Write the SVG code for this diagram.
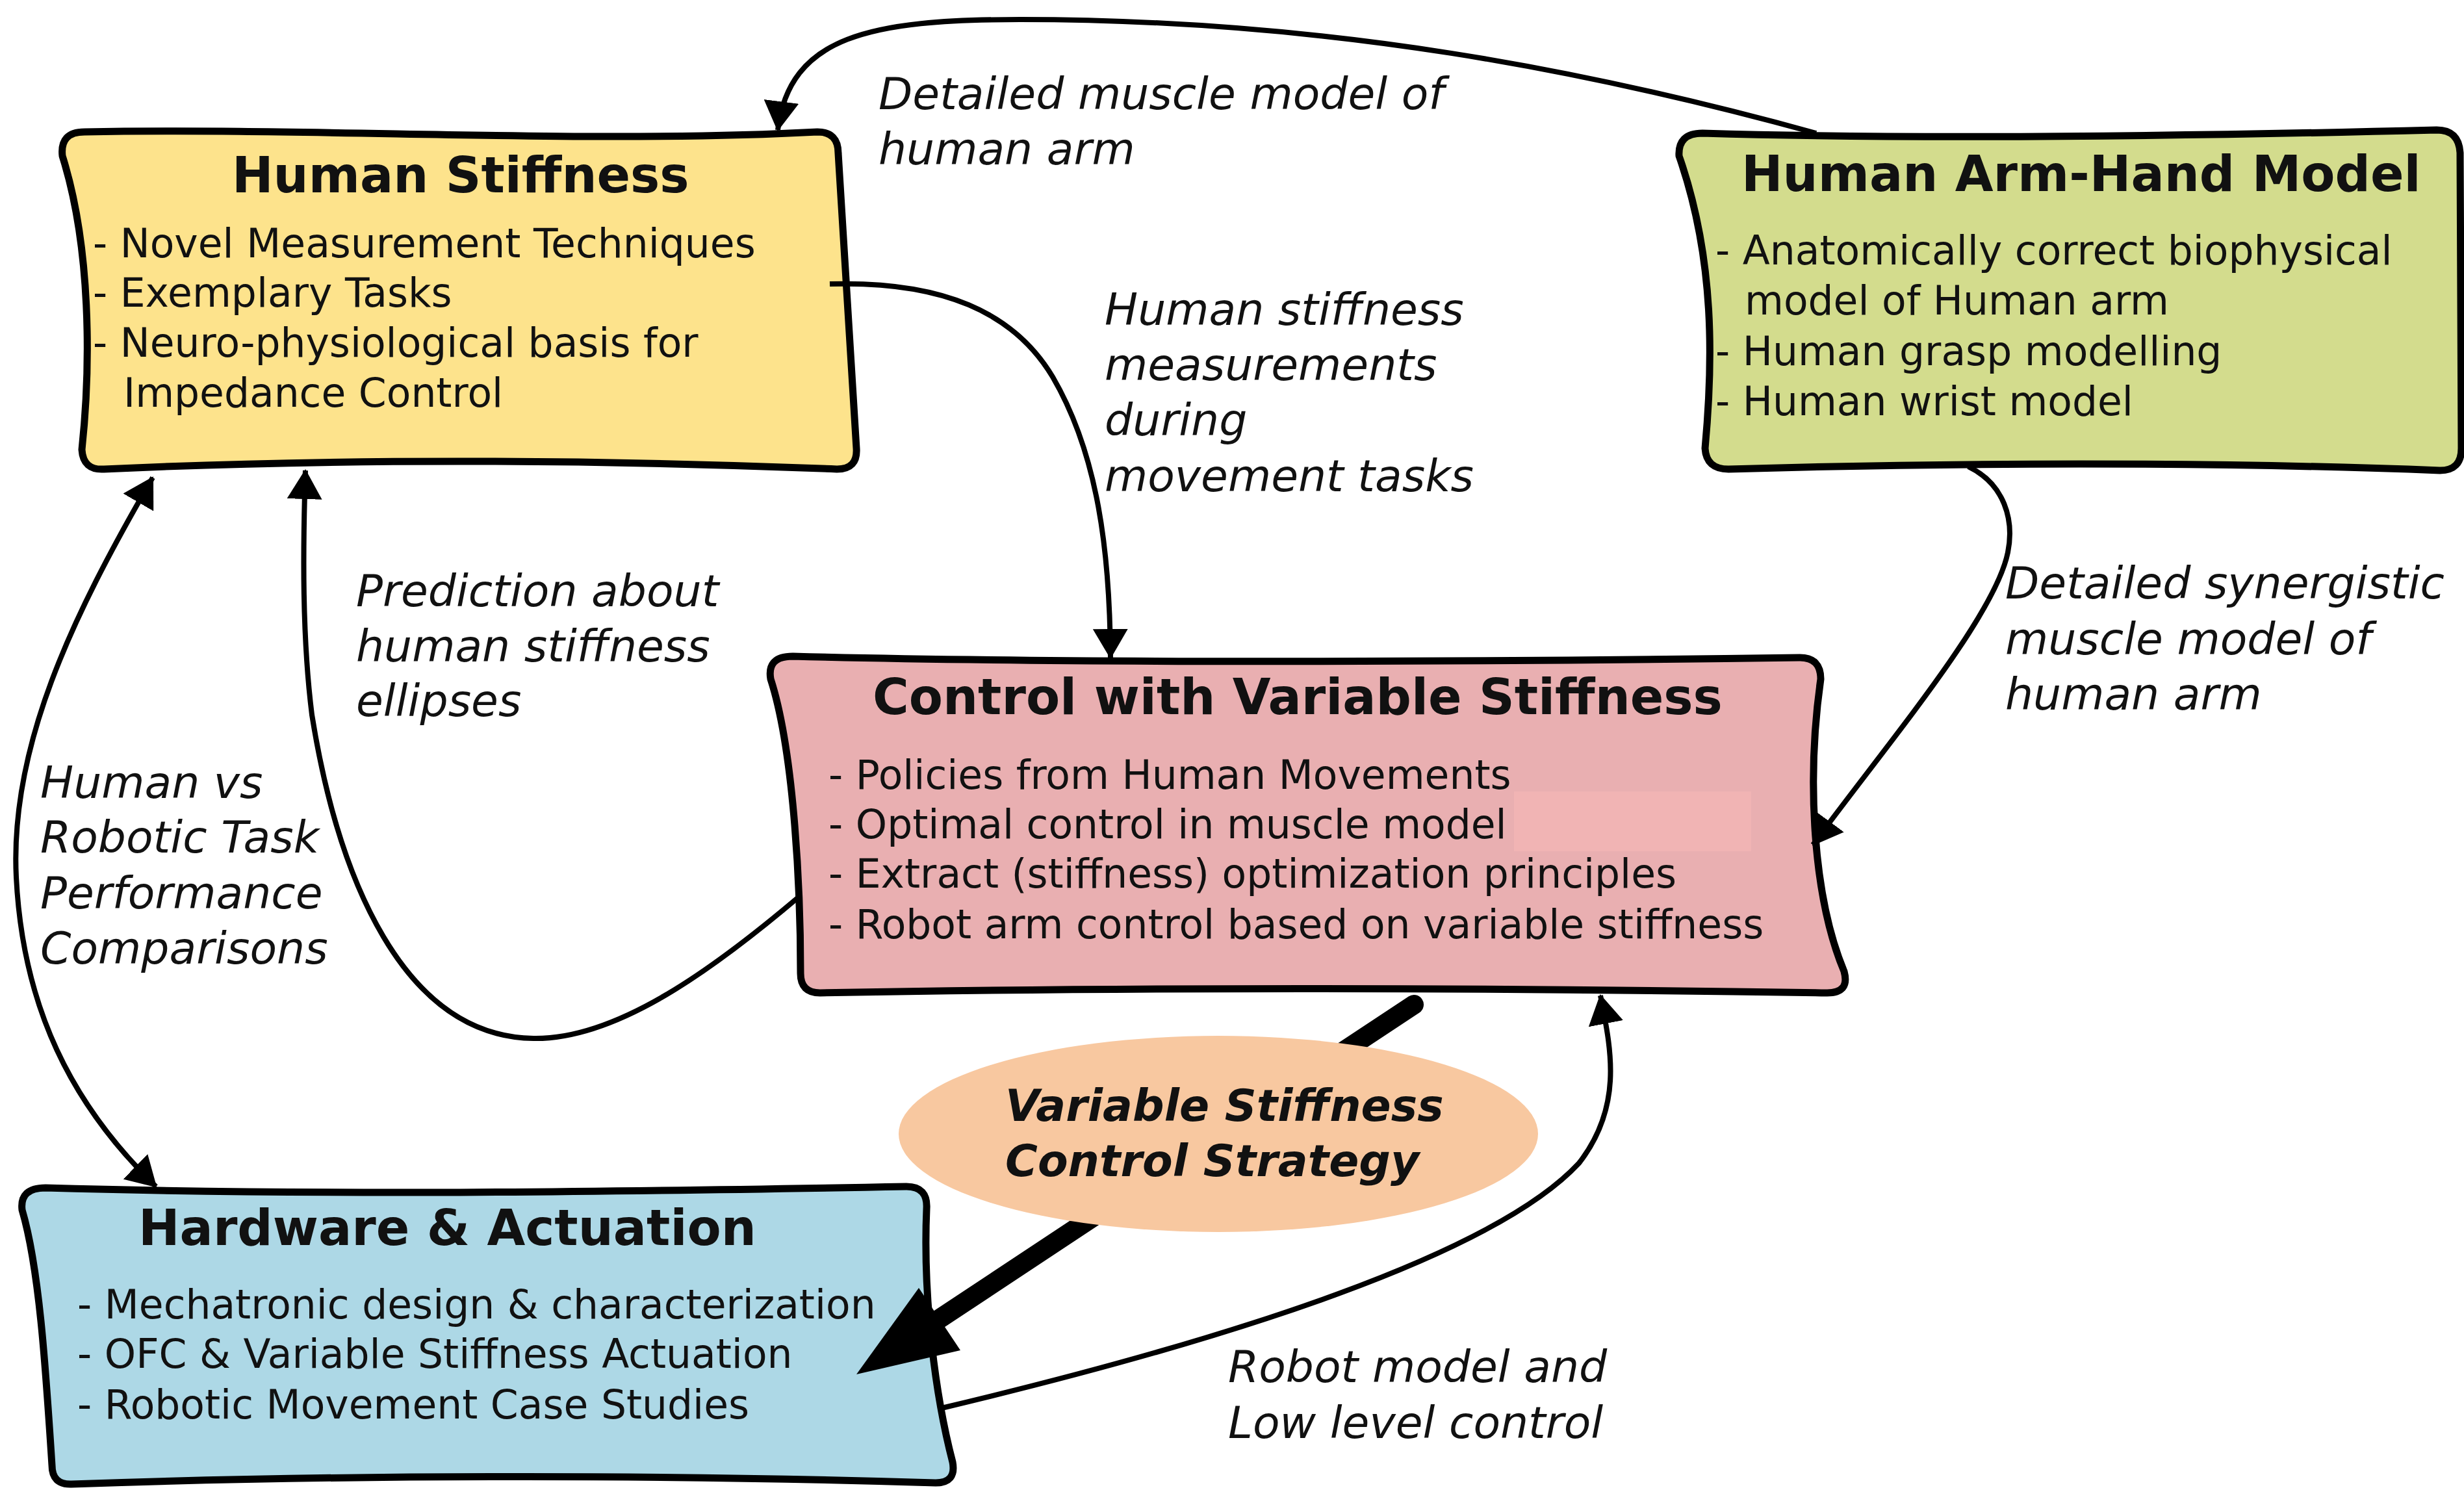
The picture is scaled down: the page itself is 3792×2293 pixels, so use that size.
<svg xmlns="http://www.w3.org/2000/svg" width="3792" height="2293" viewBox="0 0 3792 2293">
<style>
.box{stroke:#000;stroke-width:11;stroke-linejoin:round}
.title{font-family:"DejaVu Sans",sans-serif;font-weight:bold;font-size:76px;fill:#111}
.body{font-family:"DejaVu Sans",sans-serif;font-size:61.5px;fill:#111}
.lbl{font-family:"DejaVu Sans",sans-serif;font-style:italic;font-size:68px;fill:#111}
.ell{font-family:"DejaVu Sans",sans-serif;font-style:italic;font-weight:bold;font-size:68px;fill:#111}
.conn{fill:none;stroke:#000;stroke-width:8}
</style>
<defs>
<marker id="ah" viewBox="0 0 46 54" refX="44" refY="27" markerWidth="46" markerHeight="54" markerUnits="userSpaceOnUse" orient="auto-start-reverse">
<path d="M0 0 L46 27 L0 54 Z" fill="#000"/>
</marker>
</defs>
<rect width="3792" height="2293" fill="#fff"/>

<g id="human-stiffness">
<path class="box" fill="#fde38c" d="M130 203 C500 196 900 222 1258 203 Q1290 203 1290 236 C1300 400 1310 550 1318 690 Q1320 722 1288 722 C900 706 500 706 160 722 Q128 724 126 692 C140 560 140 380 96 240 Q92 203 130 203 Z"/>
<text class="title" x="357" y="296">Human Stiffness</text>
<text class="body" x="143" y="396">- Novel Measurement Techniques</text>
<text class="body" x="143" y="472">- Exemplary Tasks</text>
<text class="body" x="143" y="549">- Neuro-physiological basis for</text>
<text class="body" x="190" y="626">Impedance Control</text>
</g>

<g id="human-arm-hand-model">
<path class="box" fill="#d3dc8d" d="M2620 205 C2950 215 3350 210 3750 200 Q3784 200 3786 235 L3788 690 Q3788 724 3755 724 C3400 710 3000 712 2660 722 Q2626 722 2624 690 C2636 560 2640 400 2584 240 Q2582 205 2620 205 Z"/>
<text class="title" x="2680" y="294">Human Arm-Hand Model</text>
<text class="body" x="2640" y="407">- Anatomically correct biophysical</text>
<text class="body" x="2685" y="484">model of Human arm</text>
<text class="body" x="2640" y="562">- Human grasp modelling</text>
<text class="body" x="2640" y="639">- Human wrist model</text>
</g>

<g id="control-variable-stiffness">
<path class="box" fill="#e9afb1" d="M1220 1010 C1600 1020 2200 1020 2770 1012 Q2802 1012 2802 1045 C2780 1200 2790 1380 2838 1495 Q2847 1528 2812 1528 C2300 1520 1800 1518 1262 1528 Q1232 1528 1232 1498 C1232 1350 1220 1150 1186 1045 Q1180 1010 1220 1010 Z"/>
<rect x="2330" y="1218" width="365" height="92" fill="#f1b4b4"/>
<text class="title" x="1343" y="1099">Control with Variable Stiffness</text>
<text class="body" x="1275" y="1214">- Policies from Human Movements</text>
<text class="body" x="1275" y="1290">- Optimal control in muscle model</text>
<text class="body" x="1275" y="1366">- Extract (stiffness) optimization principles</text>
<text class="body" x="1275" y="1444">- Robot arm control based on variable stiffness</text>
</g>

<g id="hardware-actuation">
<path class="box" fill="#add8e6" d="M70 1828 C500 1840 900 1835 1395 1826 Q1428 1826 1426 1860 C1420 2000 1440 2150 1466 2250 Q1472 2282 1440 2282 C1000 2268 500 2270 110 2284 Q80 2285 80 2255 C70 2100 60 1950 34 1862 Q30 1828 70 1828 Z"/>
<text class="title" x="213" y="1916">Hardware &amp; Actuation</text>
<text class="body" x="119" y="2029">- Mechatronic design &amp; characterization</text>
<text class="body" x="119" y="2105">- OFC &amp; Variable Stiffness Actuation</text>
<text class="body" x="119" y="2183">- Robotic Movement Case Studies</text>
</g>

<g id="connectors">
<path class="conn" marker-end="url(#ah)" d="M2795 205 C2450 110 2050 30 1570 30 C1340 30 1215 55 1197 200"/>
<path class="conn" marker-end="url(#ah)" d="M1277 437 C1450 432 1560 480 1620 580 C1690 700 1708 850 1709 1012"/>
<path class="conn" marker-end="url(#ah)" d="M3029 718 C3085 745 3100 800 3090 850 C3070 950 2900 1150 2790 1300"/>
<path class="conn" marker-end="url(#ah)" d="M1232 1378 C1100 1490 950 1600 821 1598 C620 1595 520 1350 480 1100 C465 980 466 850 470 724"/>
<path class="conn" marker-start="url(#ah)" marker-end="url(#ah)" d="M235 735 C110 950 15 1150 25 1350 C35 1550 110 1700 240 1826"/>
<path class="conn" marker-end="url(#ah)" d="M1445 2168 C1900 2060 2300 1930 2430 1790 C2500 1700 2478 1610 2463 1532"/>
<path d="M2176 1546 L1430 2040" fill="none" stroke="#000" stroke-width="30" stroke-linecap="round"/>
<path d="M1318 2115 L1414 1982 L1446 2030 L1478 2078 Z" fill="#000"/>
<text class="lbl" x="1352" y="168">Detailed muscle model of</text>
<text class="lbl" x="1352" y="253">human arm</text>
<text class="lbl" x="1700" y="500">Human stiffness</text>
<text class="lbl" x="1700" y="585">measurements</text>
<text class="lbl" x="1700" y="670">during</text>
<text class="lbl" x="1700" y="756">movement tasks</text>
<text class="lbl" x="3086" y="921">Detailed synergistic</text>
<text class="lbl" x="3086" y="1007">muscle model of</text>
<text class="lbl" x="3086" y="1092">human arm</text>
<text class="lbl" x="548" y="933">Prediction about</text>
<text class="lbl" x="548" y="1018">human stiffness</text>
<text class="lbl" x="548" y="1102">ellipses</text>
<text class="lbl" x="62" y="1228">Human vs</text>
<text class="lbl" x="62" y="1312">Robotic Task</text>
<text class="lbl" x="62" y="1398">Performance</text>
<text class="lbl" x="62" y="1483">Comparisons</text>
<text class="lbl" x="1890" y="2127">Robot model and</text>
<text class="lbl" x="1890" y="2213">Low level control</text>
</g>

<g id="variable-stiffness-control-strategy">
<ellipse cx="1875" cy="1745" rx="492" ry="151" fill="#f8c8a0"/>
<text class="ell" x="1547" y="1725">Variable Stiffness</text>
<text class="ell" x="1547" y="1810">Control Strategy</text>
</g>
</svg>
